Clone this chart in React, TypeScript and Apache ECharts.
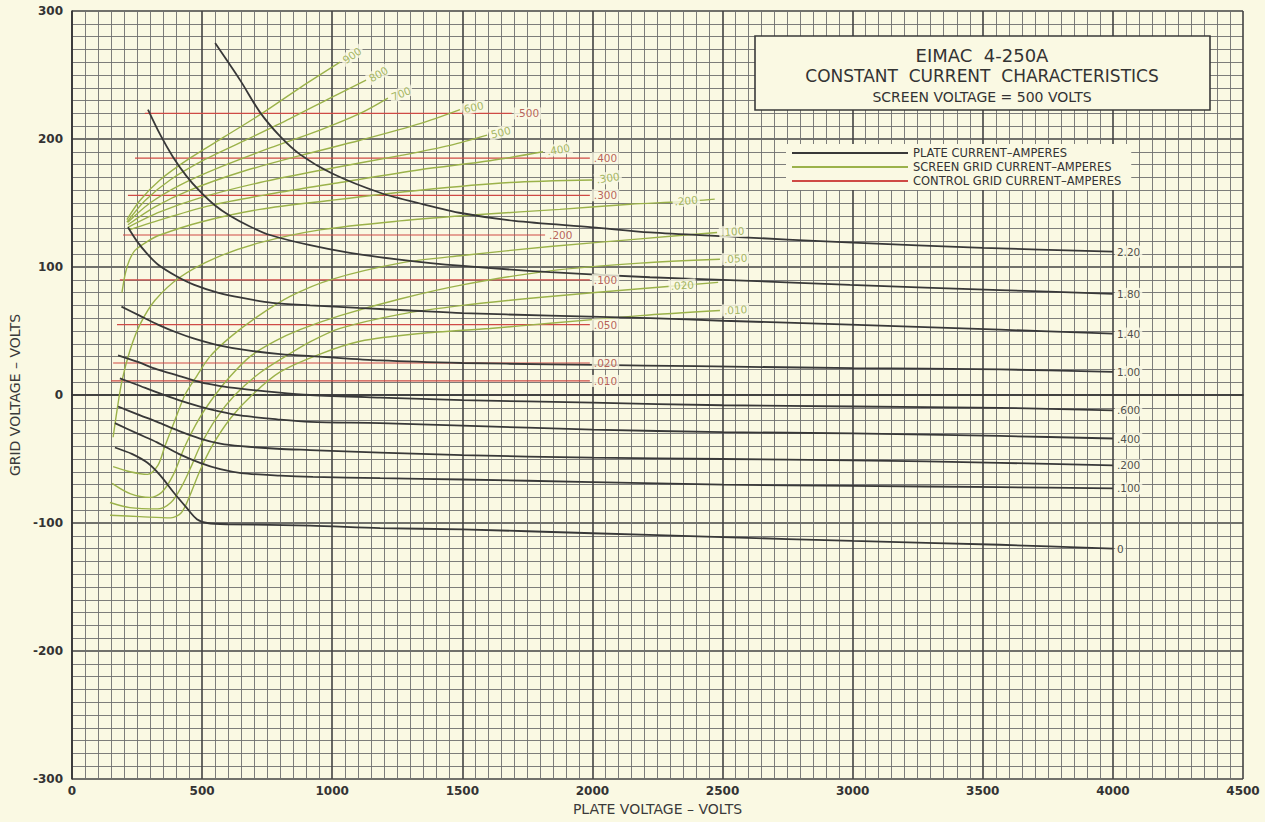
import React, { useEffect, useRef } from 'react';
import * as echarts from 'echarts';

const BG = '#faf9e3';
const BLACK = '#383838';
const GREEN = '#9bb24a';
const RED = '#cf4a45';
const FONT = '"DejaVu Sans", sans-serif';

const PLATE = 'PLATE CURRENT–AMPERES';
const SCREEN = 'SCREEN GRID CURRENT–AMPERES';
const CONTROL = 'CONTROL GRID CURRENT–AMPERES';

// ---- Plate current curves: [plate volts, grid volts] ----
const ip220 = [[550,275],[646,246],[722,221],[800,202],[876,188],[1000,173],[1184,158],[1350,149],[1500,142],[1700,136],[2000,131],[2221,127],[2500,124],[3000,119],[3500,115],[4000,112]];
const ip180 = [[292,223],[340,203],[388,186],[440,171],[492,159],[550,148],[607,140],[680,132],[761,125],[915,117],[1068,111],[1250,106],[1491,101],[1837,96],[2221,92],[2502,90],[2990,86],[3566,82],[4000,79]];
const ip140 = [[215,131],[250,120],[290,110],[330,102],[400,93],[470,86],[560,80],[650,76],[770,72],[915,70],[1100,68],[1300,66],[1500,64],[1837,62],[2221,60],[2502,58],[2990,55],[3566,51],[4000,48]];
const ip100 = [[190,69],[260,62],[330,55],[400,49],[470,44],[560,39],[670,35],[800,32],[950,30],[1184,27],[1500,25],[1837,24],[2200,23],[2600,22],[3000,21],[3566,20],[4000,18]];
const ip060 = [[177,31],[250,26],[327,20],[410,15],[492,10],[570,7],[646,5],[788,2],[915,0],[1184,-2],[1500,-4],[2000,-6],[2500,-8],[3000,-9],[3566,-10],[4000,-12]];
const ip040 = [[184,13],[250,8],[327,2],[410,-4],[492,-9],[570,-13],[646,-16],[788,-19],[915,-21],[1184,-22],[1500,-24],[2000,-27],[2500,-29],[3000,-30],[3566,-32],[4000,-34]];
const ip020 = [[177,-9],[250,-15],[327,-21],[410,-28],[492,-34],[570,-38],[650,-40],[788,-42],[915,-43],[1184,-45],[1500,-47],[2000,-49],[2500,-50],[3000,-51],[3566,-53],[4000,-55]];
const ip010 = [[165,-22],[250,-30],[327,-37],[410,-46],[492,-53],[570,-58],[650,-61],[800,-63],[926,-64],[1184,-65],[1500,-66],[2000,-68],[2500,-70],[3000,-71],[3566,-72],[4000,-73]];
const ip000 = [[165,-41],[230,-46],[290,-53],[340,-63],[390,-76],[440,-88],[480,-97],[520,-100],[600,-101],[915,-102],[1184,-104],[1500,-105],[2000,-108],[2500,-111],[3000,-114],[3566,-117],[4000,-120]];
const plateCurves = [ip220, ip180, ip140, ip100, ip060, ip040, ip020, ip010, ip000];
const plateLabels = ['2.20','1.80','1.40','1.00','.600','.400','.200','.100','0'];

// ---- Screen grid current curves ----
const is900 = [[211,137],[261,152],[338,168],[453,185],[588,202],[730,220],[876,240],[1030,260]];
const is800 = [[211,135],[281,152],[377,168],[511,184],[665,199],[838,216],[992,232],[1130,246]];
const is700 = [[215,135],[300,150],[415,164],[569,178],[761,193],[953,207],[1107,220],[1214,232]];
const is600 = [[215,133],[319,147],[453,160],[646,174],[876,187],[1107,199],[1337,212],[1491,223]];
const is500 = [[215,131],[338,143],[492,154],[722,166],[992,177],[1260,187],[1453,195],[1595,203]];
const is400 = [[219,129],[357,138],[530,148],[761,157],[1030,166],[1337,176],[1606,183],[1810,190]];
const is300 = [[192,80],[205,95],[220,105],[242,113],[290,120],[338,125],[492,135],[722,145],[992,152],[1337,160],[1683,166],[2000,168]];
const is200 = [[158,-33],[173,-12],[192,11],[223,35],[261,55],[319,74],[415,92],[550,107],[722,119],[953,129],[1260,136],[1568,141],[1875,145],[2145,149],[2337,151],[2470,153]];
const is100 = [[158,-56],[223,-60],[290,-62],[330,-55],[357,-40],[395,-20],[434,0],[480,15],[530,30],[607,45],[711,61],[838,77],[992,90],[1260,103],[1500,109],[1837,116],[2183,122],[2479,127]];
const is050 = [[154,-69],[223,-77],[300,-80],[345,-76],[390,-62],[434,-40],[490,-18],[550,0],[610,15],[684,30],[780,42],[876,51],[1030,62],[1260,75],[1500,86],[1837,97],[2183,103],[2490,106]];
const is020 = [[146,-84],[223,-88],[330,-89],[380,-84],[420,-72],[460,-55],[492,-40],[555,-18],[626,0],[720,17],[819,30],[920,42],[1030,52],[1260,63],[1500,70],[1837,77],[2183,83],[2483,88]];
const is010 = [[146,-94],[261,-95],[380,-96],[420,-92],[450,-80],[490,-60],[538,-40],[610,-18],[692,0],[800,18],[953,32],[1107,42],[1337,48],[1606,52],[1837,56],[2183,62],[2490,66]];
const screenCurves = [is900, is800, is700, is600, is500, is400, is300, is200, is100, is050, is020, is010];
const screenLabels = ['900','800','700','600','500','.400','.300','.200','.100','.050','.020','.010'];
const screenLabelAt = [[1030,260],[1130,246],[1214,232],[1491,223],[1595,203],[1810,190],[2000,168],[2300,151],[2479,127],[2490,106],[2285,85],[2490,66]];
const screenLabelRotate = [35, 30, 22, 12, 14, 10, 9, 5, 4, 4, 4, 3];

// ---- Control grid current lines ----
const ig500 = [[280,220],[1690,220]];
const ig400 = [[242,185],[1990,185]];
const ig300 = [[215,156],[1990,156]];
const ig200 = [[196,125],[1818,125]];
const ig100 = [[184,90],[1990,90]];
const ig050 = [[173,55],[1990,55]];
const ig020 = [[158,25],[1990,25]];
const ig010 = [[150,11],[1990,11]];
const controlLines = [ig500, ig400, ig300, ig200, ig100, ig050, ig020, ig010];
const controlLabels = ['.500','.400','.300','.200','.100','.050','.020','.010'];

export default function App() {
  const ref = useRef<HTMLDivElement>(null);
  useEffect(() => {
    document.body.style.margin = '0';
    document.body.style.background = BG;
    if (!ref.current) return;
    const chart = echarts.init(ref.current, undefined, { renderer: 'svg' });

    const lineSeries = (data: number[][], name: string, color: string, width: number, smooth: boolean) => ({
      type: 'line', name, data, symbol: 'none', showSymbol: false, silent: true,
      smooth: smooth ? 0.3 : false,
      lineStyle: { color, width }, itemStyle: { color }, z: 3,
    });

    const labelBase = (color: string) => ({
      show: true, position: 'right', distance: 2, formatter: '{b}', color,
      fontSize: 10.5, fontFamily: FONT, backgroundColor: BG, padding: [1, 2, 0, 2],
    });

    const series: any[] = [
      ...controlLines.map(d => lineSeries(d, CONTROL, RED, 1.2, false)),
      ...screenCurves.map(d => lineSeries(d, SCREEN, GREEN, 1.4, true)),
      ...plateCurves.map(d => lineSeries(d, PLATE, BLACK, 1.8, true)),
      {
        type: 'scatter', symbolSize: 0, silent: true, z: 8,
        label: labelBase('#222'),
        data: plateCurves.map((c, i) => ({ name: plateLabels[i], value: c[c.length - 1] })),
      },
      {
        type: 'scatter', symbolSize: 0, silent: true, z: 8,
        label: labelBase('#a83a35'),
        data: controlLines.map((c, i) => ({ name: controlLabels[i], value: c[c.length - 1] })),
      },
      {
        type: 'scatter', symbolSize: 0, silent: true, z: 8,
        label: labelBase('#8fa541'),
        data: screenLabelAt.map((p, i) => ({ name: screenLabels[i], value: p, label: { rotate: screenLabelRotate[i] } })),
      },
    ];

    const axisName = { color: '#3a3a3a', fontSize: 14, fontFamily: FONT };
    const option: any = {
      animation: false,
      backgroundColor: BG,
      grid: { left: 72, right: 22, top: 11, bottom: 43 },
      legend: {
        data: [PLATE, SCREEN, CONTROL], orient: 'vertical', left: 786, top: 144,
        icon: 'rect', itemWidth: 116, itemHeight: 2, itemGap: 2, selectedMode: false,
        backgroundColor: BG, padding: [3, 10, 3, 6],
        textStyle: { fontSize: 11.5, color: '#333', fontFamily: FONT },
      },
      xAxis: {
        type: 'value', min: 0, max: 4500, interval: 500,
        name: 'PLATE VOLTAGE – VOLTS', nameLocation: 'middle', nameGap: 22, nameTextStyle: axisName,
        axisLine: { show: true, lineStyle: { color: '#333', width: 1.6 } },
        axisTick: { show: false },
        axisLabel: { color: '#333', fontWeight: 'bold', fontSize: 12, fontFamily: FONT, margin: 6, formatter: (v: number) => String(v) },
        splitLine: { show: true, lineStyle: { color: '#434343', width: 1.6 } },
        minorTick: { show: false, splitNumber: 10 },
        minorSplitLine: { show: true, lineStyle: { color: '#6e6e6e', width: 0.9 } },
      },
      yAxis: {
        type: 'value', min: -300, max: 300, interval: 100,
        name: 'GRID VOLTAGE – VOLTS', nameLocation: 'middle', nameGap: 50, nameTextStyle: axisName,
        axisLine: { show: true, lineStyle: { color: '#333', width: 1.6 } },
        axisTick: { show: false },
        axisLabel: { color: '#333', fontWeight: 'bold', fontSize: 12, fontFamily: FONT, margin: 9, formatter: (v: number) => String(v) },
        splitLine: { show: true, lineStyle: { color: '#434343', width: 1.6 } },
        minorTick: { show: false, splitNumber: 10 },
        minorSplitLine: { show: true, lineStyle: { color: '#6e6e6e', width: 0.9 } },
      },
      graphic: [
        { type: 'rect', z: 100, shape: { x: 755, y: 36, width: 455, height: 74 },
          style: { fill: BG, stroke: '#3a3a3a', lineWidth: 1.6 } },
        { type: 'text', z: 101, x: 982, y: 55,
          style: { text: 'EIMAC  4-250A', font: '18px "DejaVu Sans"', fill: '#333', align: 'center', verticalAlign: 'middle', textAlign: 'center', textVerticalAlign: 'middle' } },
        { type: 'text', z: 101, x: 982, y: 76,
          style: { text: 'CONSTANT  CURRENT  CHARACTERISTICS', font: '17px "DejaVu Sans"', fill: '#333', align: 'center', verticalAlign: 'middle', textAlign: 'center', textVerticalAlign: 'middle' } },
        { type: 'text', z: 101, x: 982, y: 97,
          style: { text: 'SCREEN VOLTAGE = 500 VOLTS', font: '14px "DejaVu Sans"', fill: '#333', align: 'center', verticalAlign: 'middle', textAlign: 'center', textVerticalAlign: 'middle' } },
      ],
      series,
    };
    chart.setOption(option);
    return () => chart.dispose();
  }, []);
  return <div ref={ref} style={{ width: 1265, height: 822, background: BG }} />;
}
